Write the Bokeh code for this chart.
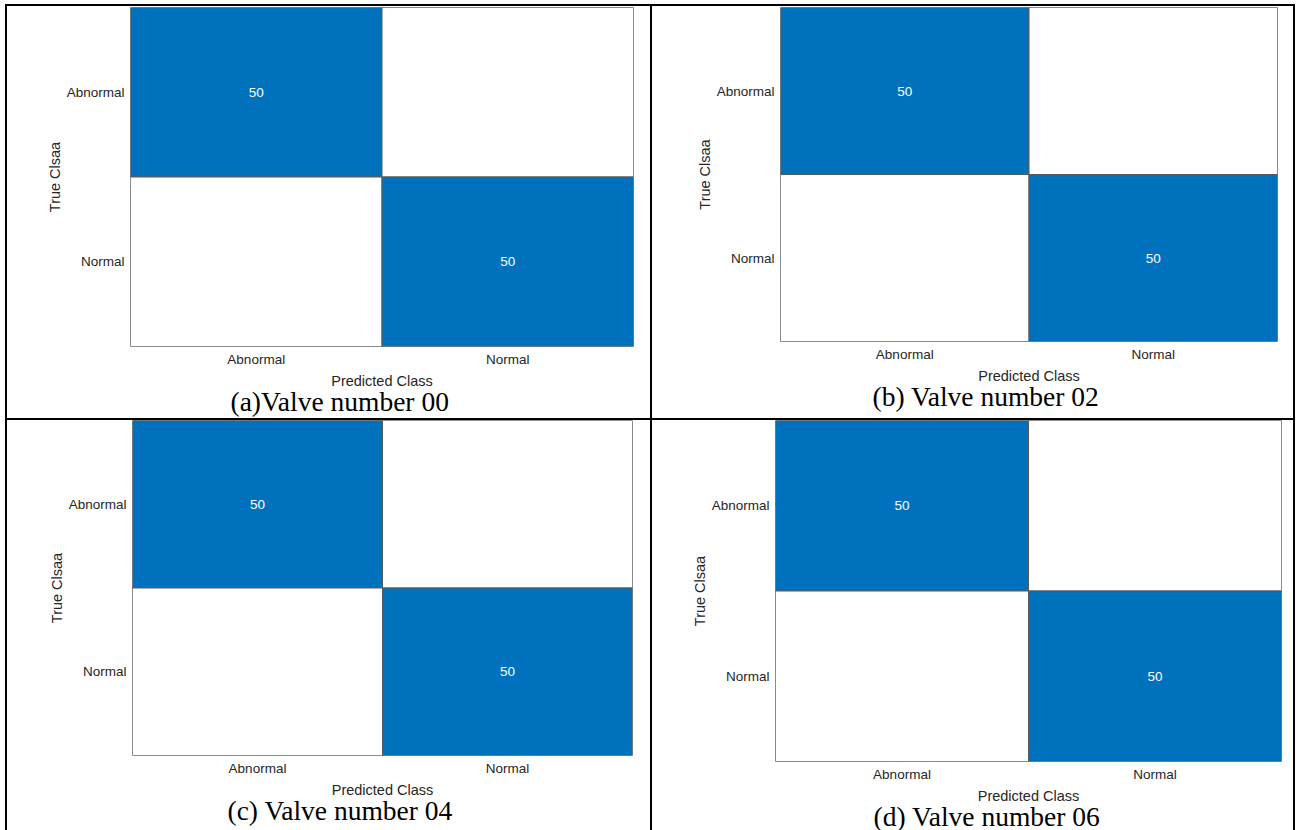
from bokeh.plotting import figure
from bokeh.layouts import row, column
from bokeh.models import ColumnDataSource
from bokeh.core.properties import value
from bokeh.embed import file_html
from bokeh.resources import INLINE

# ---- data ----
pred_classes = ["Abnormal", "Normal"]
true_classes = ["Abnormal", "Normal"]
captions = ["(a)Valve number 00", "(b) Valve number 02", "(c) Valve number 04", "(d) Valve number 06"]
counts_valve00 = [[50, 0], [0, 50]]
counts_valve02 = [[50, 0], [0, 50]]
counts_valve04 = [[50, 0], [0, 50]]
counts_valve06 = [[50, 0], [0, 50]]
all_counts = [counts_valve00, counts_valve02, counts_valve04, counts_valve06]

# ---- layout/style ----
FIG_H = 412
B = "2px solid black"
# width, left, right, top, bottom, caption offset, border css
geoms = [
    (643, 123, 19, 1, 74, 100, {"border-left": B, "border-top": B}),
    (641, 128, 20, 1, 79, 92, {"border-left": B, "border-top": B, "border-right": B}),
    (643, 125, 20, 0, 79, 95, {"border-left": B, "border-top": B}),
    (641, 123, 16, 0, 73, 98, {"border-left": B, "border-top": B, "border-right": B}),
]
BLUE = "#0072BD"
SANS = "Liberation Sans"
SERIF = "Liberation Serif"
TXT = "#262626"

cells = []
for counts, cap, (w, l, r, t, b, off, css) in zip(all_counts, captions, geoms):
    xs, ys, cs, cols, labs = [], [], [], [], []
    for i, tc in enumerate(true_classes):
        for j, pc in enumerate(pred_classes):
            c = counts[i][j]
            xs.append(pc)
            ys.append(tc)
            cs.append(c)
            cols.append(BLUE if c > 0 else "white")
            labs.append(str(c) if c > 0 else "")
    src = ColumnDataSource(dict(x=xs, y=ys, count=cs, color=cols, label=labs))

    p = figure(width=w, height=FIG_H, x_range=pred_classes,
               y_range=list(reversed(true_classes)),
               output_backend="svg", toolbar_location=None,
               title=cap, title_location="below",
               min_border_left=l, min_border_right=r,
               min_border_top=t, min_border_bottom=b)
    p.rect(x="x", y="y", width=1, height=1, source=src, fill_color="color",
           line_color="#5a5a5a", line_width=1)
    p.text(x="x", y="y", text="label", source=src, text_color="white",
           text_align="center", text_baseline="middle",
           text_font=value(SANS), text_font_size="13.5px")

    p.x_range.range_padding = 0
    p.y_range.range_padding = 0
    p.grid.visible = False
    p.outline_line_color = "#a6a6a6"
    p.outline_line_width = 1
    p.background_fill_color = "white"
    p.border_fill_color = "white"

    for ax in (p.xaxis[0], p.yaxis[0]):
        ax.axis_line_color = None
        ax.major_tick_line_color = None
        ax.minor_tick_line_color = None
        ax.major_tick_out = 0
        ax.major_tick_in = 0
        ax.major_label_text_font = SANS
        ax.major_label_text_font_size = "13.5px"
        ax.major_label_text_color = TXT
        ax.axis_label_text_font = SANS
        ax.axis_label_text_font_size = "14.5px"
        ax.axis_label_text_font_style = "normal"
        ax.axis_label_text_color = TXT
    p.xaxis.axis_label = "Predicted Class"
    p.yaxis.axis_label = "True Clsaa"
    p.xaxis.major_label_standoff = 5
    p.xaxis.axis_label_standoff = 3
    p.yaxis.major_label_standoff = 6
    p.yaxis.axis_label_standoff = 1
    p.yaxis.major_label_orientation = "horizontal"

    p.title.align = "left"
    p.title.offset = off
    p.title.standoff = -15
    p.title.text_font = SERIF
    p.title.text_font_size = "27.5px"
    p.title.text_font_style = "normal"
    p.title.text_color = "black"

    css = dict(css)
    css["box-sizing"] = "content-box"
    p.styles = css
    cells.append(column(p))

layout = column(row(cells[0], cells[1]), row(cells[2], cells[3]))
layout.margin = (4, 0, 0, 5)

open("out.html", "w").write(file_html(layout, INLINE))
